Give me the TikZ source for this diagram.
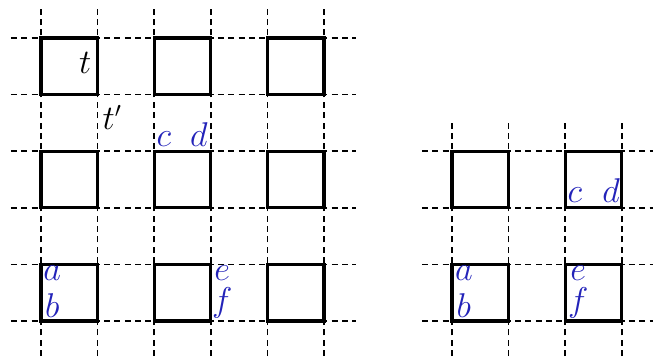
\documentclass[tikz,border=0pt]{standalone}
\usetikzlibrary{positioning}
\definecolor{letterblue}{RGB}{35,35,185}
\tikzset{
    gridline/.style={line width=0.8pt, dash pattern=on 3pt off 2.2pt},
    tile/.style={draw, line width=1.6pt},
    lbl/.style={font={\fontsize{16}{19}\selectfont}, inner sep=0pt, anchor=base},
    corner/.style={lbl, text=letterblue}
}

\begin{document}
\begin{tikzpicture}[x=1cm, y=1cm]
    \useasboundingbox (-0.724,-0.618) rectangle (10.97,5.671);

    % big grid
    \foreach \i in {0,...,5} {
        \draw[gridline] (\i,-0.62) -- (\i,5.58);
        \draw[gridline] (-0.53,\i) -- (5.57,\i);
    }
    \foreach \i in {0,2,4}
        \foreach \j in {0,2,4}
            \draw[tile] (\i,\j) rectangle ++(1,1);

    \node[lbl] (t) at (0.78,4.38) {$t$};
    \node[lbl] (tp) at (1.26,3.38) {$t'$};
    \node[corner] (c1) at (2.17,3.08) {$c$};
    \node[corner] (d1) at (2.79,3.08) {$d$};
    \node[corner] (a1) at (0.2,0.72) {$a$};
    \node[corner] (b1) at (0.2,0.07) {$b$};
    \node[corner] (e1) at (3.2,0.71) {$e$};
    \node[corner] (f1) at (3.2,0.16) {$f$};

    % small grid
    \begin{scope}[xshift=7.26cm]
        \foreach \i in {0,...,3} {
            \draw[gridline] (\i,-0.62) -- (\i,3.55);
            \draw[gridline] (-0.53,\i) -- (3.55,\i);
        }
        \foreach \i in {0,2}
            \foreach \j in {0,2}
                \draw[tile] (\i,\j) rectangle ++(1,1);

        \node[corner] (c2) at (2.17,2.1) {$c$};
        \node[corner] (d2) at (2.81,2.1) {$d$};
        \node[corner] (a2) at (0.21,0.72) {$a$};
        \node[corner] (b2) at (0.21,0.07) {$b$};
        \node[corner] (e2) at (2.23,0.71) {$e$};
        \node[corner] (f2) at (2.23,0.16) {$f$};
    \end{scope}
\end{tikzpicture}
\end{document}
